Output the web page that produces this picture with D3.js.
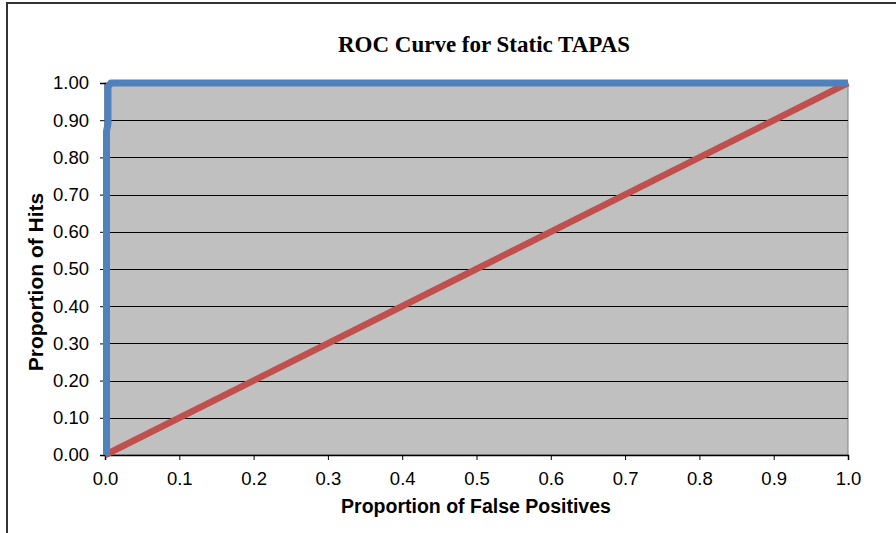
<!DOCTYPE html>
<html>
<head>
<meta charset="utf-8">
<script src="https://cdn.jsdelivr.net/npm/d3@7"></script>
<style>
html,body{margin:0;padding:0;background:#fff;}
svg{display:block;}
</style>
</head>
<body>
<svg id="chart" width="896" height="533"></svg>
<script>
const title = "ROC Curve for Static TAPAS";
const xLabel = "Proportion of False Positives";
const yLabel = "Proportion of Hits";
const xTicks = [0,0.1,0.2,0.3,0.4,0.5,0.6,0.7,0.8,0.9,1.0];
const yTicks = [0,0.1,0.2,0.3,0.4,0.5,0.6,0.7,0.8,0.9,1.0];
const tapasFP = [0.002,0.002,0.004,0.004,0.008,0.5,1.0];
const tapasHit = [0.0,0.87,0.89,0.99,1.0,1.0,1.0];
const chanceFP = [0,0.5,1];
const chanceHit = [0,0.5,1];

const svg = d3.select("#chart");
const L=105,R=848,T=83,B=455;
const x = d3.scaleLinear().domain([0,1]).range([L,R]);
const y = d3.scaleLinear().domain([0,1]).range([B,T]);

// outer frame
svg.append("rect").attr("x",7).attr("y",3).attr("width",1000).attr("height",1000)
  .attr("fill","#fff").attr("stroke","#333").attr("stroke-width",2);

// plot area
svg.append("rect").attr("x",L).attr("y",T).attr("width",R-L).attr("height",B-T)
  .attr("fill","#c0c0c0").attr("stroke","#808080").attr("stroke-width",1);

// gridlines
svg.append("g").selectAll("line").data(yTicks.slice(1)).join("line")
  .attr("x1",L).attr("x2",R).attr("y1",d=>Math.round(y(d))+0.5).attr("y2",d=>Math.round(y(d))+0.5)
  .attr("stroke","#000").attr("stroke-width",1);

// axes
const yAxis = d3.axisLeft(y).tickValues(yTicks).tickFormat(d3.format(".2f")).tickSize(5).tickPadding(11);
const gy = svg.append("g").attr("transform",`translate(${L},0)`).call(yAxis);
const xAxis = d3.axisBottom(x).tickValues(xTicks).tickFormat(d3.format(".1f")).tickSize(5).tickPadding(12);
const gx = svg.append("g").attr("transform",`translate(0,${B})`).call(xAxis);
[gx,gy].forEach(g=>{
  g.attr("font-size",null).attr("font-family",null);
  g.selectAll(".domain").attr("stroke","#000").attr("stroke-width",1.5);
  g.selectAll(".tick line").attr("stroke","#000").attr("stroke-width",1);
  g.selectAll(".tick text").attr("fill","#000")
    .attr("font-family","Liberation Sans, Arial, sans-serif").attr("font-size","18.5px");
});

// series
const line = d3.line().x(d=>x(d[0])).y(d=>y(d[1]));
svg.append("path").datum(chanceFP.map((v,i)=>[v,chanceHit[i]]))
  .attr("d",line).attr("fill","none").attr("stroke","#c0504d").attr("stroke-width",6.5);
svg.append("path").datum(tapasFP.map((v,i)=>[v,tapasHit[i]]))
  .attr("d",line).attr("fill","none").attr("stroke","#4f81bd").attr("stroke-width",7)
  .attr("stroke-linejoin","round");

// title & labels
svg.append("text").attr("x",484).attr("y",52).attr("text-anchor","middle")
  .attr("font-family","Liberation Serif, Times New Roman, serif").attr("font-weight","bold")
  .attr("font-size","23px").text(title);
svg.append("text").attr("x",476).attr("y",513).attr("text-anchor","middle")
  .attr("font-family","Liberation Sans, Arial, sans-serif").attr("font-weight","bold")
  .attr("font-size","19.5px").text(xLabel);
svg.append("text").attr("transform","translate(43,282) rotate(-90)").attr("text-anchor","middle")
  .attr("font-family","Liberation Sans, Arial, sans-serif").attr("font-weight","bold")
  .attr("font-size","21px").text(yLabel);
</script>
</body>
</html>
